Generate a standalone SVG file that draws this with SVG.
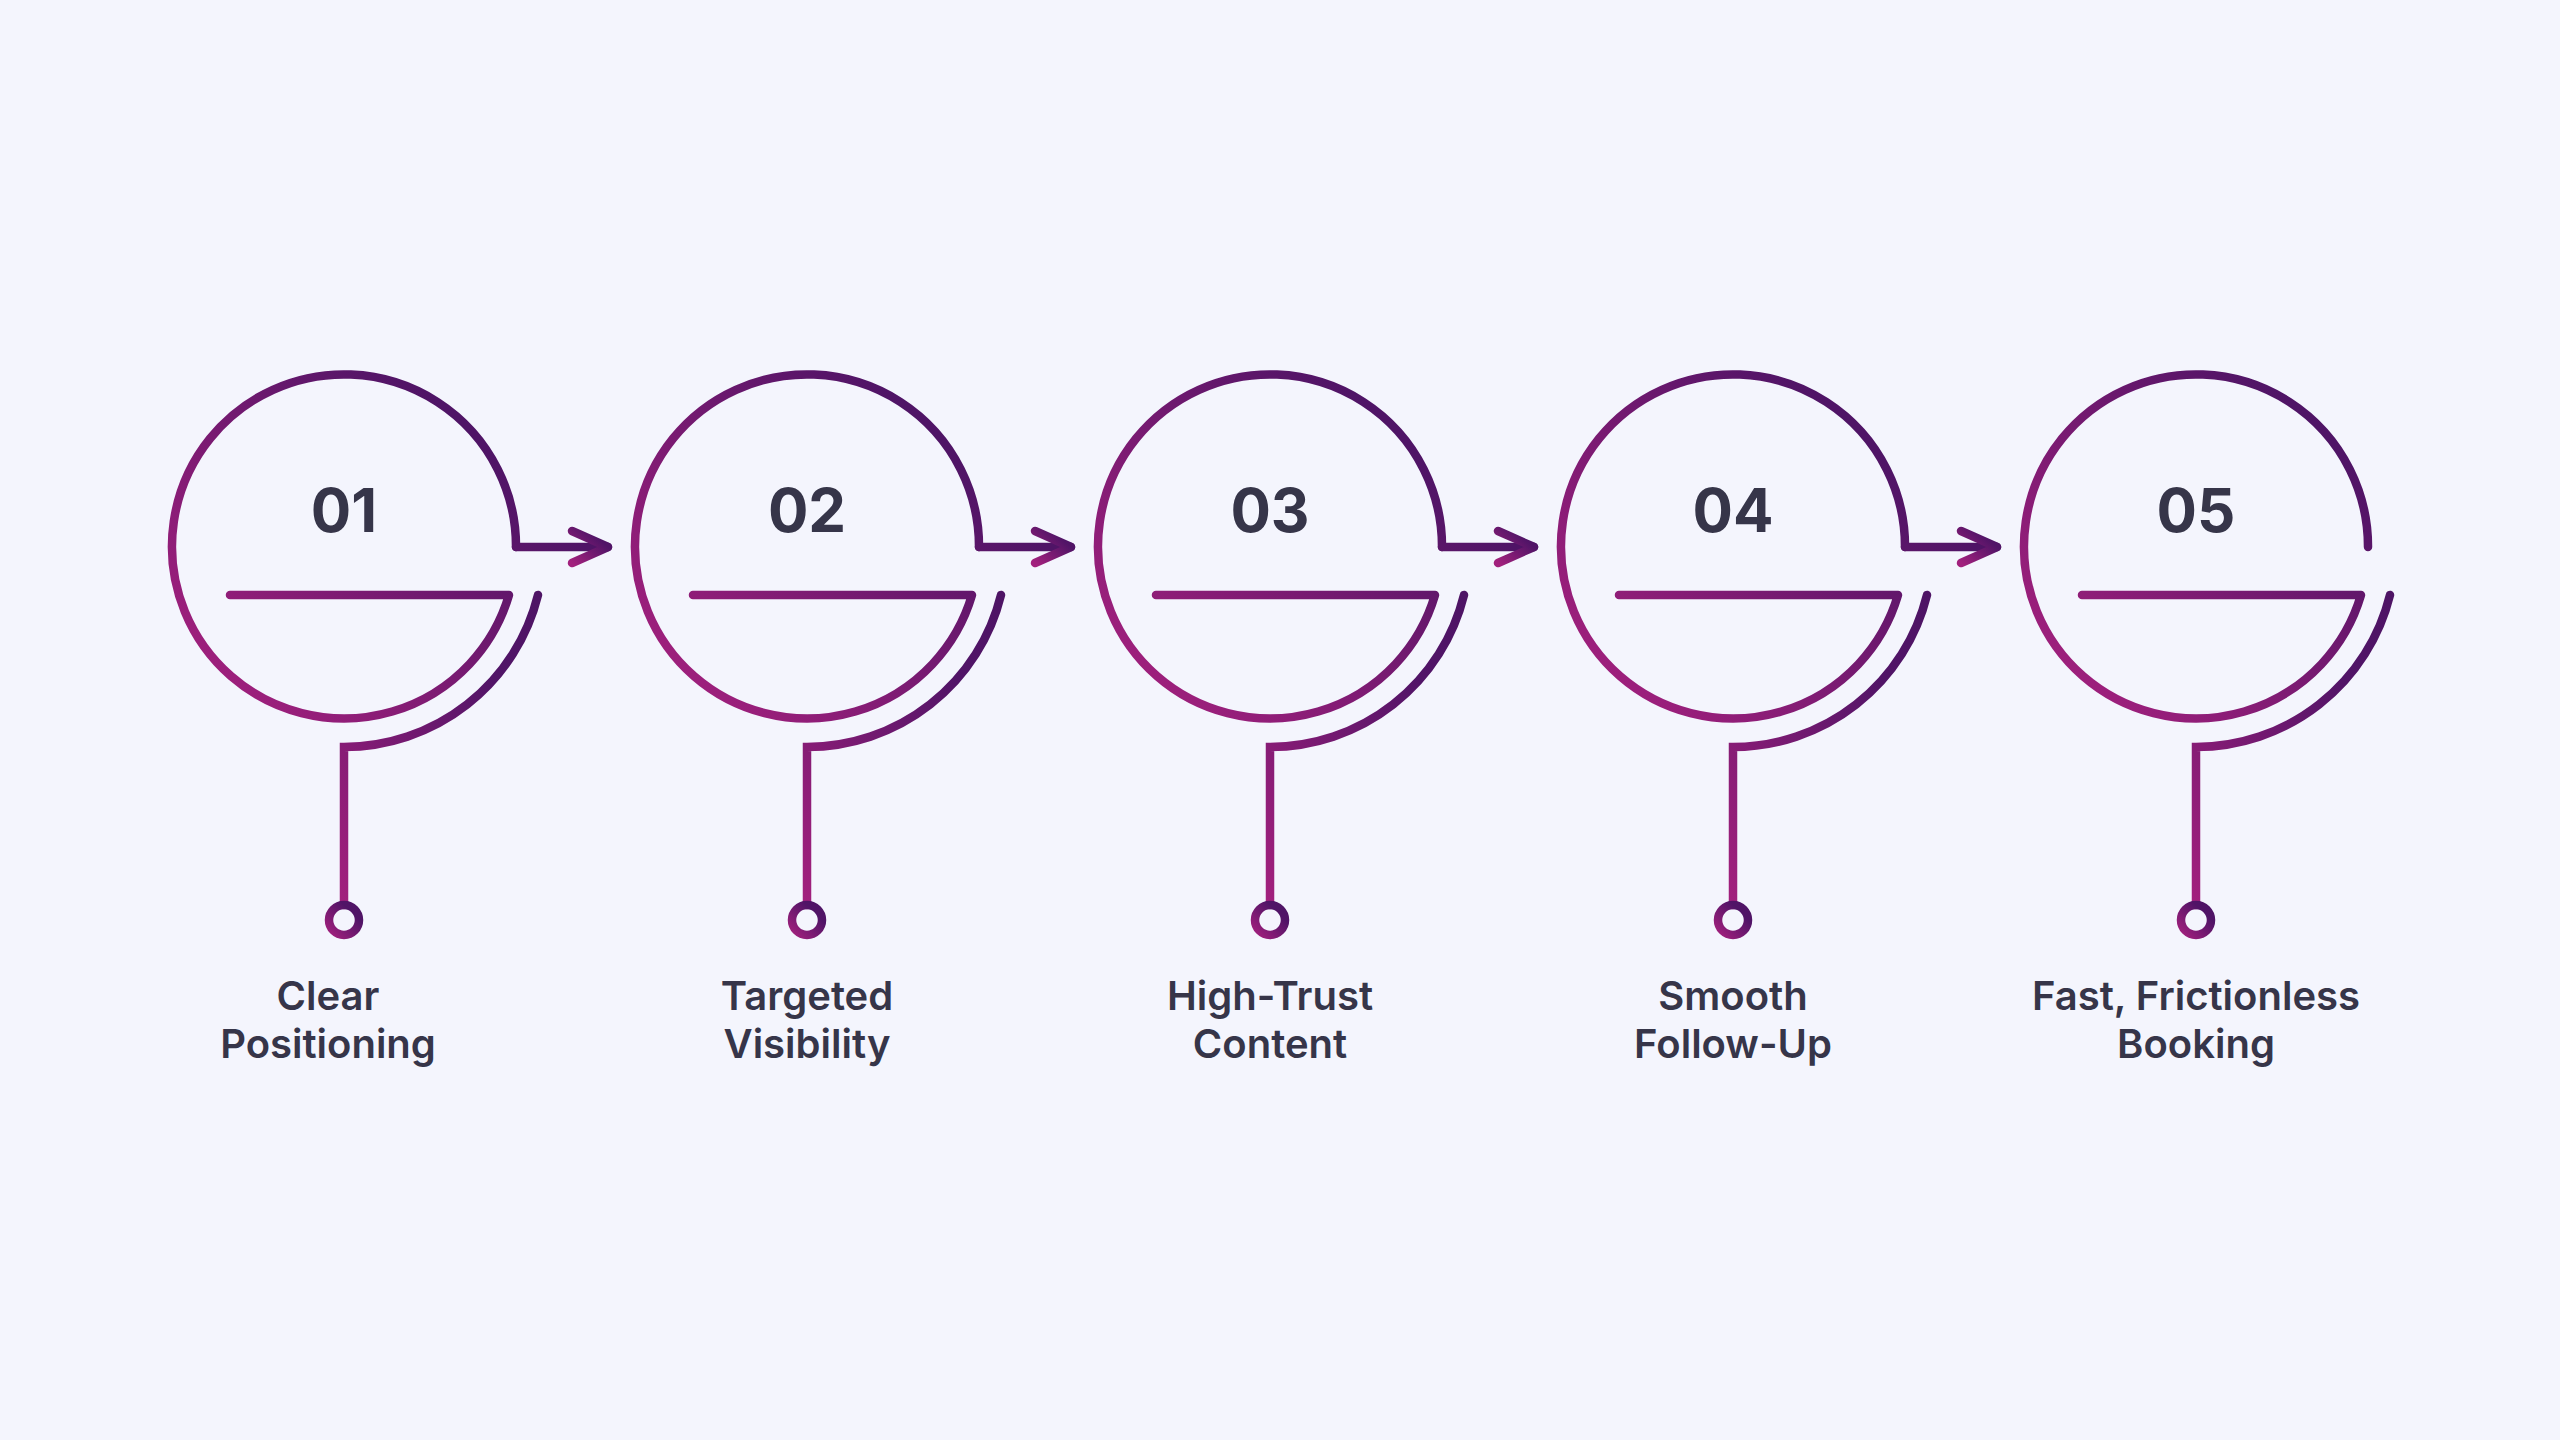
<svg xmlns="http://www.w3.org/2000/svg" width="2560" height="1440" viewBox="0 0 2560 1440">
<defs>
<linearGradient id="g" x1="0" y1="1" x2="1" y2="0">
<stop offset="0" stop-color="#A2207D"/>
<stop offset="0.75" stop-color="#511467"/>
<stop offset="1" stop-color="#4E1465"/>
</linearGradient>
<linearGradient id="gu" gradientUnits="userSpaceOnUse" x1="-140" y1="140" x2="120" y2="-120">
<stop offset="0" stop-color="#A2207D"/>
<stop offset="1" stop-color="#4F1466"/>
</linearGradient>
<style>
.s{fill:none;stroke:url(#g);stroke-width:8.5;stroke-linecap:round;stroke-linejoin:round}
.u{stroke:url(#gu)}
.m{stroke-linejoin:miter}
.num{font-family:Inter,"Noto Sans",sans-serif;font-weight:700;font-size:60px;fill:#363549;text-anchor:middle}
.lbl{font-family:Inter,"Noto Sans",sans-serif;font-weight:600;font-size:40px;fill:#363549;text-anchor:middle}
</style>
</defs>
<rect width="2560" height="1440" fill="#F4F5FD"/>
<g id="connectors">
<g transform="translate(344,547)"><path class="s u" d="M172 0 L264 0"/><path class="s" d="M228 -16 L264 0 L228 16"/></g>
<g transform="translate(807,547)"><path class="s u" d="M172 0 L264 0"/><path class="s" d="M228 -16 L264 0 L228 16"/></g>
<g transform="translate(1270,547)"><path class="s u" d="M172 0 L264 0"/><path class="s" d="M228 -16 L264 0 L228 16"/></g>
<g transform="translate(1733,547)"><path class="s u" d="M172 0 L264 0"/><path class="s" d="M228 -16 L264 0 L228 16"/></g>
</g>
<g id="node1" transform="translate(344,547)">
<path class="s u" d="M-114 48 L165 48 A172 172 0 1 1 172 0"/>
<path class="s m" d="M194 48 A200 200 0 0 1 0 200 L0 358"/>
<circle class="s" cx="0" cy="373" r="15"/>
<text class="num" x="0" y="-15">01</text>
<text class="lbl" x="-16" y="463">Clear</text>
<text class="lbl" x="-16" y="511">Positioning</text>
</g>
<g id="node2" transform="translate(807,547)">
<path class="s u" d="M-114 48 L165 48 A172 172 0 1 1 172 0"/>
<path class="s m" d="M194 48 A200 200 0 0 1 0 200 L0 358"/>
<circle class="s" cx="0" cy="373" r="15"/>
<text class="num" x="0" y="-15">02</text>
<text class="lbl" x="0" y="463">Targeted</text>
<text class="lbl" x="0" y="511">Visibility</text>
</g>
<g id="node3" transform="translate(1270,547)">
<path class="s u" d="M-114 48 L165 48 A172 172 0 1 1 172 0"/>
<path class="s m" d="M194 48 A200 200 0 0 1 0 200 L0 358"/>
<circle class="s" cx="0" cy="373" r="15"/>
<text class="num" x="0" y="-15">03</text>
<text class="lbl" x="0" y="463">High-Trust</text>
<text class="lbl" x="0" y="511">Content</text>
</g>
<g id="node4" transform="translate(1733,547)">
<path class="s u" d="M-114 48 L165 48 A172 172 0 1 1 172 0"/>
<path class="s m" d="M194 48 A200 200 0 0 1 0 200 L0 358"/>
<circle class="s" cx="0" cy="373" r="15"/>
<text class="num" x="0" y="-15">04</text>
<text class="lbl" x="0" y="463">Smooth</text>
<text class="lbl" x="0" y="511">Follow-Up</text>
</g>
<g id="node5" transform="translate(2196,547)">
<path class="s u" d="M-114 48 L165 48 A172 172 0 1 1 172 0"/>
<path class="s m" d="M194 48 A200 200 0 0 1 0 200 L0 358"/>
<circle class="s" cx="0" cy="373" r="15"/>
<text class="num" x="0" y="-15">05</text>
<text class="lbl" x="0" y="463">Fast, Frictionless</text>
<text class="lbl" x="0" y="511">Booking</text>
</g>
</svg>
